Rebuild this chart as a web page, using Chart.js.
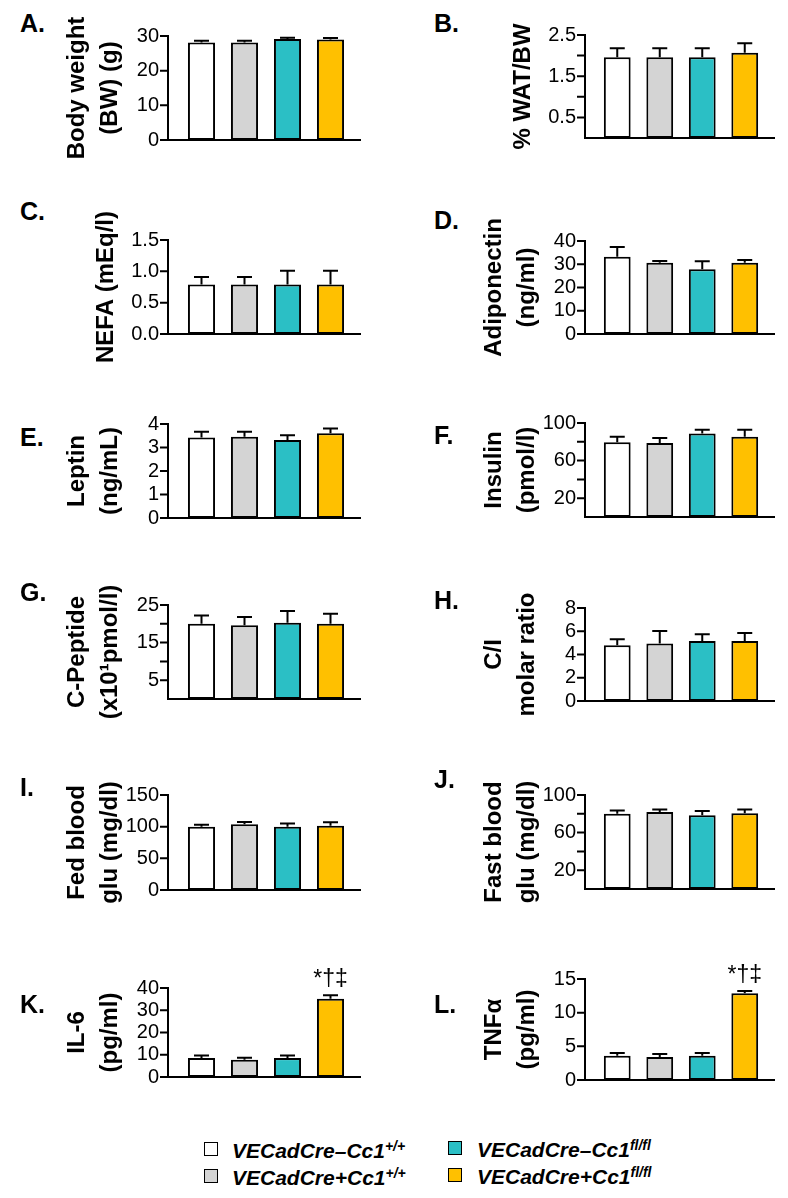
<!DOCTYPE html>
<html>
<head>
<meta charset="utf-8">
<script src="https://cdn.jsdelivr.net/npm/chart.js@4.4.1/dist/chart.umd.min.js"></script>
<style>
  body { margin: 0; background: #fff; width: 788px; height: 1198px; position: relative; overflow: hidden;
         font-family: "Liberation Sans", Arial, sans-serif; }
  canvas { position: absolute; }
  .letter { position: absolute; font-weight: bold; font-size: 25px; line-height: 25px; color: #000; }
  .legend-text { position: absolute; font-weight: bold; font-style: italic; font-size: 21px; line-height: 21px;
                 white-space: nowrap; color: #000; }
  .legend-text sup { font-size: 14px; line-height: 0; vertical-align: 7px; }
  .swatch { position: absolute; width: 12px; height: 12px; border: 1.5px solid #000; }
</style>
</head>
<body>
<script>
// groups and colours
const groups = ['VECadCre–Cc1+/+', 'VECadCre+Cc1+/+', 'VECadCre–Cc1fl/fl', 'VECadCre+Cc1fl/fl'];
const groupColors = ['#ffffff', '#d4d4d4', '#2bbfc5', '#ffc000'];

// A. body weight
const aValues = [28.1, 28.1, 29.1, 29.0];
const aErrors = [0.5, 0.5, 0.4, 0.4];
const aTicks = [0, 10, 20, 30];
const aTickLabels = ['0', '10', '20', '30'];

// B. % WAT/BW
const bValues = [1.96, 1.96, 1.96, 2.07];
const bErrors = [0.22, 0.22, 0.22, 0.23];
const bTicks = [0.5, 1.0, 1.5, 2.0, 2.5];
const bTickLabels = ['0.5', '', '1.5', '', '2.5'];

// C. NEFA
const cValues = [0.79, 0.79, 0.79, 0.79];
const cErrors = [0.12, 0.12, 0.22, 0.22];
const cTicks = [0, 0.5, 1.0, 1.5];
const cTickLabels = ['0.0', '0.5', '1.0', '1.5'];

// D. adiponectin
const dValues = [33.2, 30.6, 27.9, 30.6];
const dErrors = [4.2, 0.8, 3.4, 1.2];
const dTicks = [0, 10, 20, 30, 40];
const dTickLabels = ['0', '10', '20', '30', '40'];

// E. leptin
const eValues = [3.43, 3.46, 3.32, 3.61];
const eErrors = [0.24, 0.21, 0.2, 0.2];
const eTicks = [0, 1, 2, 3, 4];
const eTickLabels = ['0', '1', '2', '3', '4'];

// F. insulin
const fValues = [79.4, 78.7, 88.9, 85.4];
const fErrors = [6.0, 5.3, 3.9, 7.4];
const fTicks = [20, 40, 60, 80, 100];
const fTickLabels = ['20', '', '60', '', '100'];

// G. C-peptide
const gValues = [20.0, 19.6, 20.3, 20.0];
const gErrors = [2.2, 2.2, 3.1, 2.7];
const gTicks = [5, 10, 15, 20, 25];
const gTickLabels = ['5', '', '15', '', '25'];

// H. C/I molar ratio
const hValues = [4.8, 4.95, 5.17, 5.17];
const hErrors = [0.52, 1.08, 0.58, 0.69];
const hTicks = [0, 2, 4, 6, 8];
const hTickLabels = ['0', '2', '4', '6', '8'];

// I. fed blood glucose
const iValues = [100, 104, 100, 101.5];
const iErrors = [3, 3.5, 5, 5.5];
const iTicks = [0, 50, 100, 150];
const iTickLabels = ['0', '50', '100', '150'];

// J. fasting blood glucose
const jValues = [80, 82, 78.5, 80.5];
const jErrors = [3.5, 2.5, 4.5, 4];
const jTicks = [20, 40, 60, 80, 100];
const jTickLabels = ['20', '', '60', '', '100'];

// K. IL-6
const kValues = [8.5, 7.8, 8.5, 35.2];
const kErrors = [1.2, 0.9, 1.2, 1.5];
const kTicks = [0, 10, 20, 30, 40];
const kTickLabels = ['0', '10', '20', '30', '40'];
const kMarks = ['', '', '', '*†‡'];

// L. TNFa
const lValues = [3.6, 3.4, 3.6, 12.9];
const lErrors = [0.4, 0.45, 0.4, 0.3];
const lTicks = [0, 5, 10, 15];
const lTickLabels = ['0', '5', '10', '15'];
const lMarks = ['', '', '', '*†‡'];

const panels = [
  { letter: 'A.', title: ['Body weight', '(BW) (g)'], values: aValues, errors: aErrors, ticks: aTicks, tickLabels: aTickLabels },
  { letter: 'B.', title: ['% WAT/BW'], values: bValues, errors: bErrors, ticks: bTicks, tickLabels: bTickLabels },
  { letter: 'C.', title: ['NEFA (mEq/l)'], values: cValues, errors: cErrors, ticks: cTicks, tickLabels: cTickLabels },
  { letter: 'D.', title: ['Adiponectin', '(ng/ml)'], values: dValues, errors: dErrors, ticks: dTicks, tickLabels: dTickLabels },
  { letter: 'E.', title: ['Leptin', '(ng/mL)'], values: eValues, errors: eErrors, ticks: eTicks, tickLabels: eTickLabels },
  { letter: 'F.', title: ['Insulin', '(pmol/l)'], values: fValues, errors: fErrors, ticks: fTicks, tickLabels: fTickLabels },
  { letter: 'G.', title: ['C-Peptide', '(x10¹pmol/l)'], values: gValues, errors: gErrors, ticks: gTicks, tickLabels: gTickLabels },
  { letter: 'H.', title: ['C/I', 'molar ratio'], values: hValues, errors: hErrors, ticks: hTicks, tickLabels: hTickLabels },
  { letter: 'I.', title: ['Fed blood', 'glu (mg/dl)'], values: iValues, errors: iErrors, ticks: iTicks, tickLabels: iTickLabels },
  { letter: 'J.', title: ['Fast blood', 'glu (mg/dl)'], values: jValues, errors: jErrors, ticks: jTicks, tickLabels: jTickLabels },
  { letter: 'K.', title: ['IL-6', '(pg/ml)'], values: kValues, errors: kErrors, ticks: kTicks, tickLabels: kTickLabels, marks: kMarks },
  { letter: 'L.', title: ['TNFα', '(pg/ml)'], values: lValues, errors: lErrors, ticks: lTicks, tickLabels: lTickLabels, marks: lMarks }
];

// page layout (pixels)
const columns = [
  { axisX: 168, gap: 12, plotWidth: 172, letterX: 20 },
  { axisX: 585, gap: 11, plotWidth: 170, letterX: 434 }
];
const panelLayout = [
  { col: 0, top: 36, bottom: 140, letterTop: 15 },
  { col: 1, top: 35, bottom: 138, letterTop: 15 },
  { col: 0, top: 240, bottom: 334, letterTop: 203 },
  { col: 1, top: 241, bottom: 334, letterTop: 212 },
  { col: 0, top: 424, bottom: 518, letterTop: 429 },
  { col: 1, top: 423, bottom: 517, letterTop: 427 },
  { col: 0, top: 605, bottom: 699, letterTop: 584 },
  { col: 1, top: 608, bottom: 701, letterTop: 592 },
  { col: 0, top: 795, bottom: 890, letterTop: 779 },
  { col: 1, top: 795, bottom: 889, letterTop: 771 },
  { col: 0, top: 988, bottom: 1077, letterTop: 996 },
  { col: 1, top: 979, bottom: 1080, letterTop: 996 }
];

const FONT = '"Liberation Sans", Arial, sans-serif';
const TITLE_W = 110, PAD_TOP = 45, PAD_BOTTOM = 45, PAD_RIGHT = 14;

// y axis line, tick marks, x axis line, drawn a little left of the plot
const axesPlugin = {
  id: 'panelAxes',
  afterDatasetsDraw(chart, args, opts) {
    const { ctx, chartArea, scales: { y } } = chart;
    const x0 = chartArea.left - opts.gap;
    ctx.save();
    ctx.strokeStyle = '#000';
    ctx.lineWidth = 2;
    ctx.lineCap = 'square';
    ctx.beginPath();
    ctx.moveTo(x0, y.getPixelForValue(y.max));
    ctx.lineTo(x0, chartArea.bottom);
    ctx.lineTo(chartArea.right + 8, chartArea.bottom);
    y.ticks.forEach(t => {
      const py = y.getPixelForValue(t.value);
      ctx.moveTo(x0 - 7, py);
      ctx.lineTo(x0, py);
    });
    ctx.stroke();
    ctx.restore();
  }
};

// upper error bars and significance marks
const errorBarPlugin = {
  id: 'errorBars',
  afterDatasetsDraw(chart) {
    const { ctx, scales: { y } } = chart;
    const ds = chart.data.datasets[0];
    const meta = chart.getDatasetMeta(0);
    ctx.save();
    ctx.strokeStyle = '#000';
    ctx.lineWidth = 2;
    meta.data.forEach((bar, i) => {
      const top = y.getPixelForValue(ds.data[i] + ds.errors[i]);
      ctx.beginPath();
      ctx.moveTo(bar.x, bar.y);
      ctx.lineTo(bar.x, top);
      ctx.moveTo(bar.x - 7.5, top);
      ctx.lineTo(bar.x + 7.5, top);
      ctx.stroke();
      if (ds.marks && ds.marks[i]) {
        ctx.fillStyle = '#000';
        ctx.font = '23px ' + FONT;
        ctx.textAlign = 'center';
        ctx.textBaseline = 'alphabetic';
        ctx.fillText(ds.marks[i], bar.x, top - 9);
      }
    });
    ctx.restore();
  }
};

// rotated y-axis titles
const titlePlugin = {
  id: 'sideTitle',
  afterDraw(chart, args, opts) {
    const { ctx, chartArea } = chart;
    const lines = chart.data.datasets[0].titleLines;
    const axisX = chartArea.left - opts.gap;
    const xs = lines.length > 1 ? [axisX - 91, axisX - 58] : [axisX - 62];
    const cy = (chartArea.top + chartArea.bottom) / 2;
    ctx.save();
    ctx.fillStyle = '#000';
    ctx.font = 'bold 24px ' + FONT;
    ctx.textAlign = 'center';
    ctx.textBaseline = 'middle';
    lines.forEach((line, k) => {
      ctx.save();
      ctx.translate(xs[k], cy);
      ctx.rotate(-Math.PI / 2);
      ctx.fillText(line, 0, 0);
      ctx.restore();
    });
    ctx.restore();
  }
};

panels.forEach((p, i) => {
  const L = panelLayout[i];
  const C = columns[L.col];

  const canvas = document.createElement('canvas');
  canvas.width = TITLE_W + C.gap + C.plotWidth + PAD_RIGHT;
  canvas.height = (L.bottom - L.top) + PAD_TOP + PAD_BOTTOM;
  canvas.style.left = (C.axisX - TITLE_W) + 'px';
  canvas.style.top = (L.top - PAD_TOP) + 'px';
  document.body.appendChild(canvas);

  const letter = document.createElement('div');
  letter.className = 'letter';
  letter.textContent = p.letter;
  letter.style.left = C.letterX + 'px';
  letter.style.top = (L.letterTop - 4) + 'px';
  document.body.appendChild(letter);

  new Chart(canvas, {
    type: 'bar',
    data: {
      labels: groups,
      datasets: [{
        data: p.values,
        errors: p.errors,
        marks: p.marks,
        titleLines: p.title,
        backgroundColor: groupColors,
        borderColor: '#000',
        borderWidth: 2,
        borderSkipped: false,
        barPercentage: 0.63,
        categoryPercentage: 1
      }]
    },
    options: {
      responsive: false,
      animation: false,
      devicePixelRatio: 1,
      layout: { padding: { top: PAD_TOP, bottom: PAD_BOTTOM, left: 0, right: PAD_RIGHT } },
      plugins: {
        legend: { display: false },
        tooltip: { enabled: false },
        panelAxes: { gap: C.gap },
        sideTitle: { gap: C.gap }
      },
      scales: {
        x: { display: false },
        y: {
          min: 0,
          max: p.ticks[p.ticks.length - 1],
          afterBuildTicks: s => { s.ticks = p.ticks.map(v => ({ value: v })); },
          afterFit: s => { s.width = TITLE_W + C.gap; },
          grid: { display: false, drawTicks: false },
          border: { display: false },
          ticks: {
            autoSkip: false,
            padding: C.gap + 9,
            color: '#000',
            font: { family: FONT, size: 20 },
            callback: (v, idx) => p.tickLabels[idx]
          }
        }
      }
    },
    plugins: [axesPlugin, errorBarPlugin, titlePlugin]
  });
});

// legend
const legendItems = [
  { x: 204, y: 1142, textX: 232, main: 'VECadCre–Cc1', sup: '+/+' },
  { x: 204, y: 1169, textX: 232, main: 'VECadCre+Cc1', sup: '+/+' },
  { x: 448, y: 1141, textX: 477, main: 'VECadCre–Cc1', sup: 'fl/fl' },
  { x: 448, y: 1168, textX: 477, main: 'VECadCre+Cc1', sup: 'fl/fl' }
];
legendItems.forEach((it, i) => {
  const sw = document.createElement('div');
  sw.className = 'swatch';
  sw.style.left = it.x + 'px';
  sw.style.top = it.y + 'px';
  sw.style.background = groupColors[i];
  document.body.appendChild(sw);

  const t = document.createElement('div');
  t.className = 'legend-text';
  t.style.left = it.textX + 'px';
  t.style.top = (it.y - 2) + 'px';
  t.innerHTML = it.main + '<sup>' + it.sup + '</sup>';
  document.body.appendChild(t);
});
</script>
</body>
</html>
